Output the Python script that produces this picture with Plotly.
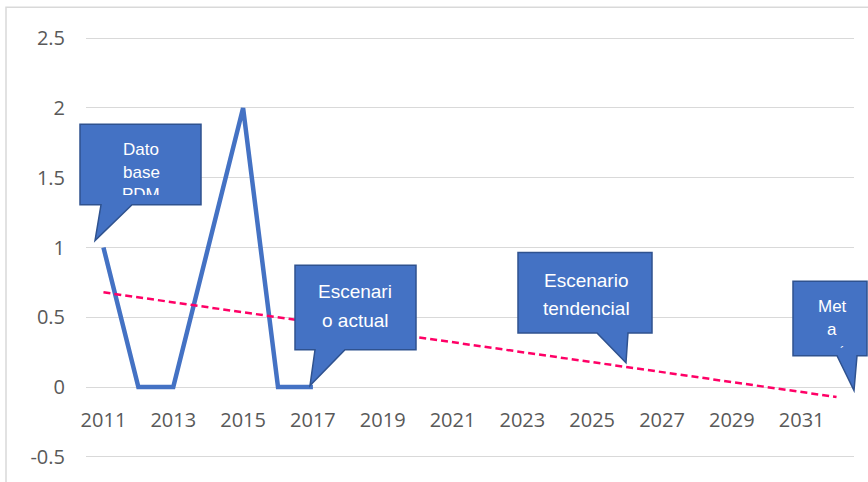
import numpy as np
import plotly.graph_objects as go

# --- data -------------------------------------------------------------
anios = [2011, 2012, 2013, 2014, 2015, 2016, 2017]
valores = [1, 0, 0, 1, 2, 0, 0]
anios_tendencia = [2011, 2032]

y_tickvals = [-0.5, 0, 0.5, 1, 1.5, 2, 2.5]
y_ticktext = ["-0.5", "0", "0.5", "1", "1.5", "2", "2.5"]
x_tickvals = list(range(2011, 2032, 2))
x_ticktext = [str(a) for a in x_tickvals]

# --- geometry -----------------------------------------------------------
W, H = 868, 482
ML, MR, MT, MB = 86, 14, 34, 18
X_RANGE = [2010.5, 2032.5]
PAD_Y = 0.03  # headroom so the edge gridlines are drawn
Y_RANGE = [-0.5 - PAD_Y, 2.5 + PAD_Y]

AZUL = "#4472C4"
BORDE = "#2F528F"
ROSA = "#FF0066"
GRIS_TXT = "#595959"
GRIS_GRID = "#D9D9D9"


def px_x(p):
    return (p - ML) / (W - ML - MR)


def px_y(p):
    return (H - MB - p) / (H - MT - MB)


# linear trend of the observed series, projected to 2032
pendiente, intercepto = np.polyfit(anios, valores, 1)
tendencia = [pendiente * a + intercepto for a in anios_tendencia]

fig = go.Figure()
fig.add_trace(go.Scatter(
    x=anios, y=valores, mode="lines",
    line=dict(color=AZUL, width=4.5),
    showlegend=False, hoverinfo="skip",
))
fig.add_trace(go.Scatter(
    x=anios_tendencia, y=tendencia, mode="lines",
    line=dict(color=ROSA, width=2.5, dash="7px,4px"),
    showlegend=False, hoverinfo="skip",
))

# callout boxes: (left, top, right, bottom), tail base x's, tail tip, text lines
llamadas = [
    dict(box=(80, 125, 201, 206), tail=(101, 132), tip=(95, 242),
         lines=[("Dato", 150), ("base", 173), ("PDM", 196)], cx=141, size=17),
    dict(box=(295, 267, 416, 352), tail=(315, 345), tip=(310, 388),
         lines=[("Escenari", 293), ("o actual", 323)], cx=355, size=19),
    dict(box=(518, 254, 652, 335), tail=(597, 628), tip=(626, 365),
         lines=[("Escenario", 282), ("tendencial", 310)], cx=586, size=19),
    dict(box=(793, 283, 867, 358), tail=(837, 857), tip=(854, 393),
         lines=[("Met", 308), ("a", 332)], cx=832, size=17),
]

shapes = [
    # outer chart frame
    dict(type="rect", xref="paper", yref="paper", layer="below",
         x0=px_x(6), x1=px_x(960), y0=px_y(700), y1=px_y(7),
         line=dict(color=GRIS_GRID, width=1.5), fillcolor="rgba(0,0,0,0)"),
]
annotations = []

for c in llamadas:
    L, T, R, B = c["box"]
    tl, tr = c["tail"]
    tx, ty = c["tip"]
    pts = [(L, T), (R, T), (R, B), (tr, B), (tx, ty), (tl, B), (L, B)]
    path = "M " + " L ".join(f"{px_x(a):.5f},{px_y(b):.5f}" for a, b in pts) + " Z"
    shapes.append(dict(type="path", xref="paper", yref="paper", layer="above",
                       path=path, fillcolor=AZUL, line=dict(color=BORDE, width=1.5)))
    for txt, yy in c["lines"]:
        annotations.append(dict(
            xref="paper", yref="paper", x=px_x(c["cx"]), y=px_y(yy),
            xanchor="center", yanchor="middle", showarrow=False, text=txt,
            font=dict(family="Liberation Sans, Arial", size=c["size"], color="white"),
        ))

# text overflowing the first box is hidden by its fill
annotations.append(dict(
    xref="paper", yref="paper", x=px_x(141), y=px_y(201),
    xanchor="center", yanchor="middle", showarrow=False, text=" ",
    width=90, height=9, bgcolor=AZUL, borderpad=0, borderwidth=0,
))
# clipped third line of the last box
annotations.append(dict(
    xref="paper", yref="paper", x=px_x(842), y=px_y(354),
    xanchor="center", yanchor="middle", showarrow=False, text="´",
    font=dict(family="Liberation Sans, Arial", size=13, color="white"),
))

fig.update_layout(
    width=W, height=H,
    margin=dict(l=ML, r=MR, t=MT, b=MB, pad=0),
    paper_bgcolor="white", plot_bgcolor="white",
    font=dict(family="Open Sans", size=20, color=GRIS_TXT),
    shapes=shapes, annotations=annotations,
    xaxis=dict(
        range=X_RANGE, anchor="free",
        position=(0 - Y_RANGE[0]) / (Y_RANGE[1] - Y_RANGE[0]),
        tickmode="array", tickvals=x_tickvals, ticktext=x_ticktext,
        showgrid=False, zeroline=False, showline=False, ticks="",
        ticklabelstandoff=19,
        tickfont=dict(family="Open Sans", size=20, color=GRIS_TXT),
    ),
    yaxis=dict(
        range=Y_RANGE, tickmode="array", tickvals=y_tickvals, ticktext=y_ticktext,
        showgrid=True, gridcolor=GRIS_GRID, gridwidth=1,
        zeroline=False, showline=False, ticks="",
        ticklabelstandoff=20,
        tickfont=dict(family="Open Sans", size=20, color=GRIS_TXT),
    ),
)

fig.write_html("out.html")
